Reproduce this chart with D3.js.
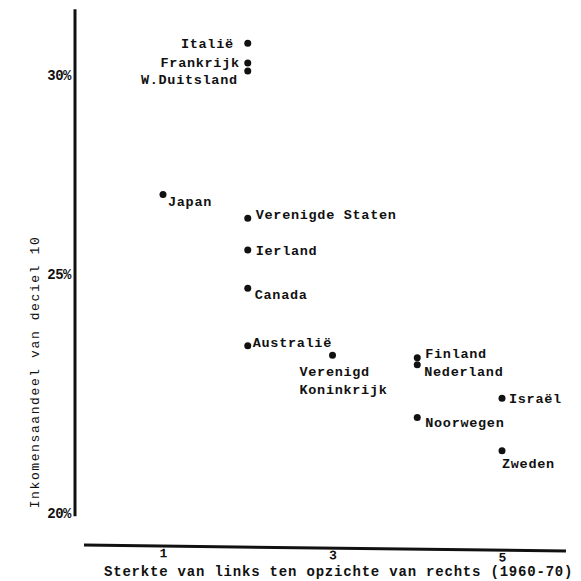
<!DOCTYPE html>
<html>
<head>
<meta charset="utf-8">
<script src="https://cdn.jsdelivr.net/npm/d3@7"></script>
<style>
  body { margin: 0; background: #fff; }
  text { font-family: "Liberation Mono", "DejaVu Sans Mono", monospace; fill: #111; }
</style>
</head>
<body>
<div class="scatter_area"></div>
<script>
// landen, sterkte links (x) en aandeel deciel 10 (y, %)
var countries = ["Italië", "Frankrijk", "W.Duitsland", "Japan", "Verenigde Staten", "Ierland", "Canada",
    "Australië", "Verenigd Koninkrijk", "Finland", "Nederland", "Israël", "Noorwegen", "Zweden"];
var leftStrength = [2, 2, 2, 1, 2, 2, 2, 2, 3, 4, 4, 5, 4, 5];
var topDecileShare = [30.8, 30.3, 30.1, 27.0, 26.4, 25.6, 24.7, 23.5, 23.3, 23.25, 23.1, 22.4, 22.0, 21.3];

var xTicks = [1, 3, 5];
var yTicks = [20, 25, 30];
var yTickLabels = ["20%", "25%", "30%"];

var xTitle = "Sterkte van links ten opzichte van rechts (1960-70)";
var yTitle = "Inkomensaandeel van deciel 10";

// label placement (relative to the dot)
var labelPos = {
    "Italië": { dx: -14, dy: 0, anchor: "end" },
    "Frankrijk": { dx: -8, dy: -1, anchor: "end" },
    "W.Duitsland": { dx: -10, dy: 8, anchor: "end" },
    "Japan": { dx: 5, dy: 7, anchor: "start" },
    "Verenigde Staten": { dx: 8, dy: -4, anchor: "start" },
    "Ierland": { dx: 8, dy: 0, anchor: "start" },
    "Canada": { dx: 7, dy: 6, anchor: "start" },
    "Australië": { dx: 5, dy: -3, anchor: "start" },
    "Verenigd Koninkrijk": { dx: -33, dy: 16, anchor: "start", lines: ["Verenigd", "Koninkrijk"] },
    "Finland": { dx: 8, dy: -4, anchor: "start" },
    "Nederland": { dx: 7, dy: 6, anchor: "start" },
    "Israël": { dx: 7, dy: 0, anchor: "start" },
    "Noorwegen": { dx: 8, dy: 5, anchor: "start" },
    "Zweden": { dx: 0, dy: 12, anchor: "start" }
};

var width = 581, height = 581;

var svg = d3.select(".scatter_area")
    .append("svg")
    .attr("width", width)
    .attr("height", height);

// scales (the printed y axis is not evenly spaced)
var x = d3.scaleLinear()
    .domain([1, 5])
    .range([163, 502]);

var y = d3.scaleLinear()
    .domain([20, 25, 30])
    .range([513, 274, 75]);

// Y axis
var yAxis = svg.append("g")
    .attr("transform", "translate(75,0)");

yAxis.append("line")
    .attr("x1", 0).attr("x2", 0)
    .attr("y1", y(31.65)).attr("y2", y(19.93))
    .style("stroke", "#111")
    .style("stroke-width", 3);

yAxis.selectAll(".ytick")
    .data(yTicks)
    .enter()
    .append("text")
    .attr("class", "ytick")
    .attr("x", -4)
    .attr("y", function (d) { return y(d); })
    .attr("dy", "0.35em")
    .attr("text-anchor", "end")
    .style("font-size", "14px")
    .style("font-weight", "bold")
    .style("letter-spacing", "-0.5px")
    .text(function (d, i) { return yTickLabels[i]; });

svg.append("text")
    .attr("transform", "translate(34," + 372 + ") rotate(-90)")
    .attr("text-anchor", "middle")
    .attr("dy", "0.35em")
    .style("font-size", "13px")
    .style("letter-spacing", "1.6px")
    .text(yTitle);

// X axis (slightly skewed, like the print)
var xAxis = svg.append("g")
    .attr("transform", "translate(0,548) rotate(0.7,320,0)")
    .call(d3.axisBottom(x).tickValues(xTicks).tickSize(0).tickPadding(2).tickFormat(d3.format("d")));

xAxis.select(".domain").remove();
xAxis.insert("line", ":first-child")
    .attr("x1", 84).attr("x2", 566)
    .attr("y1", 0).attr("y2", 0)
    .style("stroke", "#111")
    .style("stroke-width", 3);

xAxis.selectAll("text")
    .style("font-family", "Liberation Mono, monospace")
    .style("font-size", "13px")
    .style("font-weight", "bold")
    .style("fill", "#111");

svg.append("text")
    .attr("x", 104)
    .attr("y", 576)
    .style("font-size", "14px")
    .style("font-weight", "bold")
    .style("letter-spacing", "0.8px")
    .text(xTitle);

// dots
var points = countries.map(function (c, i) {
    return { name: c, x: leftStrength[i], y: topDecileShare[i] };
});

svg.append("g")
    .selectAll("circle")
    .data(points)
    .enter()
    .append("circle")
    .attr("cx", function (d) { return x(d.x); })
    .attr("cy", function (d) { return y(d.y); })
    .attr("r", 3.5)
    .attr("fill", "#111");

// labels
var labels = svg.append("g")
    .selectAll("text")
    .data(points)
    .enter()
    .append("text")
    .attr("text-anchor", function (d) { return labelPos[d.name].anchor; })
    .style("font-size", "13.5px")
    .style("font-weight", "bold")
    .style("letter-spacing", "0.7px");

labels.each(function (d) {
    var p = labelPos[d.name];
    var lines = p.lines || [d.name];
    var t = d3.select(this);
    lines.forEach(function (l, k) {
        t.append("tspan")
            .attr("x", x(d.x) + p.dx)
            .attr("y", y(d.y) + p.dy + k * 18)
            .attr("dy", "0.35em")
            .text(l);
    });
});
</script>
</body>
</html>
